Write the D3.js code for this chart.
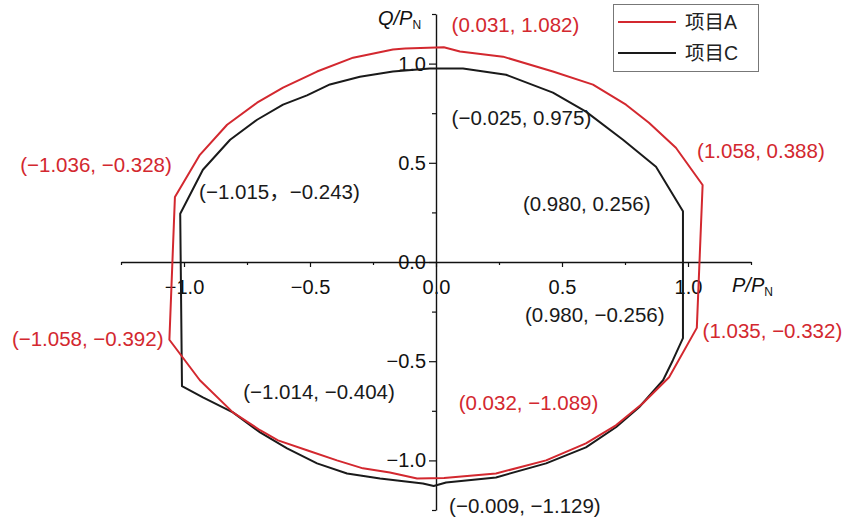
<!DOCTYPE html>
<html><head><meta charset="utf-8">
<script src="https://cdn.jsdelivr.net/npm/d3@7"></script>
<style>
body{margin:0;background:#fff;}
text{font-family:"Liberation Sans",Arial,"Noto Sans CJK SC",sans-serif;}
</style></head>
<body><svg id="c" width="859" height="525"></svg>
<script>
// Series A (red) P/PN and Q/PN
const seriesA_P = [-0.123,0.031,0.095,0.266,0.464,0.623,0.754,0.845,0.952,1.058,1.035,0.925,0.821,0.714,0.595,0.437,0.238,0.032,-0.075,-0.183,-0.290,-0.393,-0.512,-0.627,-0.698,-0.806,-0.937,-1.058,-1.036,-0.937,-0.829,-0.710,-0.607,-0.472,-0.329,-0.171,-0.123];
const seriesA_Q = [1.076,1.082,1.061,1.035,0.960,0.894,0.793,0.702,0.576,0.388,-0.332,-0.581,-0.712,-0.823,-0.914,-1.000,-1.066,-1.089,-1.091,-1.061,-1.040,-1.000,-0.949,-0.899,-0.848,-0.758,-0.596,-0.392,0.328,0.540,0.692,0.803,0.879,0.960,1.030,1.071,1.076];
// Series C (black)
const seriesC_P = [-0.025,0.107,0.278,0.464,0.595,0.742,0.873,0.980,0.980,0.940,0.901,0.806,0.714,0.595,0.437,0.238,0.040,-0.009,-0.052,-0.222,-0.353,-0.472,-0.591,-0.698,-0.806,-0.925,-1.008,-1.015,-0.925,-0.817,-0.710,-0.607,-0.512,-0.421,-0.302,-0.171,-0.025];
const seriesC_Q = [0.975,0.975,0.944,0.854,0.758,0.616,0.480,0.256,-0.384,-0.495,-0.596,-0.732,-0.833,-0.934,-1.015,-1.086,-1.111,-1.129,-1.116,-1.091,-1.066,-1.015,-0.939,-0.859,-0.758,-0.682,-0.626,0.243,0.465,0.616,0.717,0.793,0.840,0.895,0.934,0.960,0.975];
const majorTicks = [-1.0,-0.5,0.0,0.5,1.0];
const minorTicks = [-1.25,-0.75,-0.25,0.25,0.75,1.25];
const tickLabels = ["\u22121.0","\u22120.5","0.0","0.5","1.0"];
const legendNames = ["项目A","项目C"];
// annotations: text, data anchor x, y, series
const annText = ["(0.031, 1.082)","(\u22120.025, 0.975)","(1.058, 0.388)","(\u22121.036, \u22120.328)","(\u22121.015\uFF0C\u22120.243)","(0.980, 0.256)","(0.980, \u22120.256)","(1.035, \u22120.332)","(\u22121.058, \u22120.392)","(\u22121.014, \u22120.404)","(0.032, \u22121.089)","(\u22120.009, \u22121.129)"];
const annX = [0.062,0.062,1.036,-1.650,-0.940,0.345,0.353,1.058,-1.683,-0.765,0.090,0.052];
const annY = [1.160,0.690,0.525,0.455,0.320,0.255,-0.300,-0.385,-0.425,-0.690,-0.745,-1.265];
const annSeries = [0,1,0,0,1,1,1,0,0,1,0,1];

const colors = ["#d3282f","#1a1a1a"];
const svg = d3.select("#c");
const x = d3.scaleLinear().domain([-1.25,1.25]).range([121,751]);
const y = d3.scaleLinear().domain([-1.25,1.25]).range([510,14]);
const fmt = (v)=> tickLabels[majorTicks.indexOf(v)];

// x axis
const gx = svg.append("g").attr("transform",`translate(0,${y(0)})`)
  .call(d3.axisBottom(x).tickValues(majorTicks).tickFormat(fmt).tickSize(5).tickSizeOuter(0).tickPadding(13));
gx.append("g").call(d3.axisBottom(x).tickValues(minorTicks).tickFormat("").tickSize(3).tickSizeOuter(0)).select(".domain").remove();
// y axis
const gy = svg.append("g").attr("transform",`translate(${x(0)},0)`)
  .call(d3.axisLeft(y).tickValues(majorTicks).tickFormat(fmt).tickSize(7).tickSizeOuter(0).tickPadding(3));
gy.append("g").call(d3.axisLeft(y).tickValues(minorTicks).tickFormat("").tickSize(4).tickSizeOuter(0)).select(".domain").remove();
svg.selectAll(".domain").attr("stroke","#111").attr("stroke-width",1.4);
svg.selectAll(".tick line").attr("stroke","#111").attr("stroke-width",1.2);
svg.selectAll(".tick text").attr("font-size",20).attr("fill","#111").attr("font-family","'Liberation Sans',Arial,sans-serif");

// axis titles
const ty = svg.append("text").attr("x",378).attr("y",25).attr("font-size",20).attr("fill","#111");
ty.append("tspan").attr("font-style","italic").text("Q/P");
ty.append("tspan").attr("font-size",12).attr("dy",4).text("N");
const tx = svg.append("text").attr("x",732).attr("y",292).attr("font-size",20).attr("fill","#111");
tx.append("tspan").attr("font-style","italic").text("P/P");
tx.append("tspan").attr("font-size",12).attr("dy",4).text("N");

// curves
const line = d3.line().x(d=>x(d[0])).y(d=>y(d[1]));
const dataA = seriesA_P.map((p,i)=>[p,seriesA_Q[i]]);
const dataC = seriesC_P.map((p,i)=>[p,seriesC_Q[i]]);
svg.append("path").datum(dataC).attr("d",line).attr("fill","none").attr("stroke",colors[1]).attr("stroke-width",2).attr("stroke-linejoin","round");
svg.append("path").datum(dataA).attr("d",line).attr("fill","none").attr("stroke",colors[0]).attr("stroke-width",2).attr("stroke-linejoin","round");

// annotations
svg.selectAll("text.ann").data(annText).enter().append("text").attr("class","ann")
  .attr("x",(d,i)=>x(annX[i])).attr("y",(d,i)=>y(annY[i]))
  .attr("font-size",20.5).attr("fill",(d,i)=>colors[annSeries[i]]).text(d=>d);

// legend
const lg = svg.append("g");
lg.append("rect").attr("x",613.5).attr("y",4.5).attr("width",145).attr("height",67).attr("fill","#fff").attr("stroke","#777").attr("stroke-width",1);
legendNames.forEach((n,i)=>{
  const yy = 22 + i*31;
  lg.append("line").attr("x1",618).attr("x2",676).attr("y1",yy).attr("y2",yy).attr("stroke",colors[i]).attr("stroke-width",2);
  lg.append("text").attr("x",685).attr("y",yy+7).attr("font-size",19.5).attr("fill","#222")
    .attr("font-family","'Noto Sans CJK SC','Liberation Sans',sans-serif").text(n);
});
</script></body></html>
